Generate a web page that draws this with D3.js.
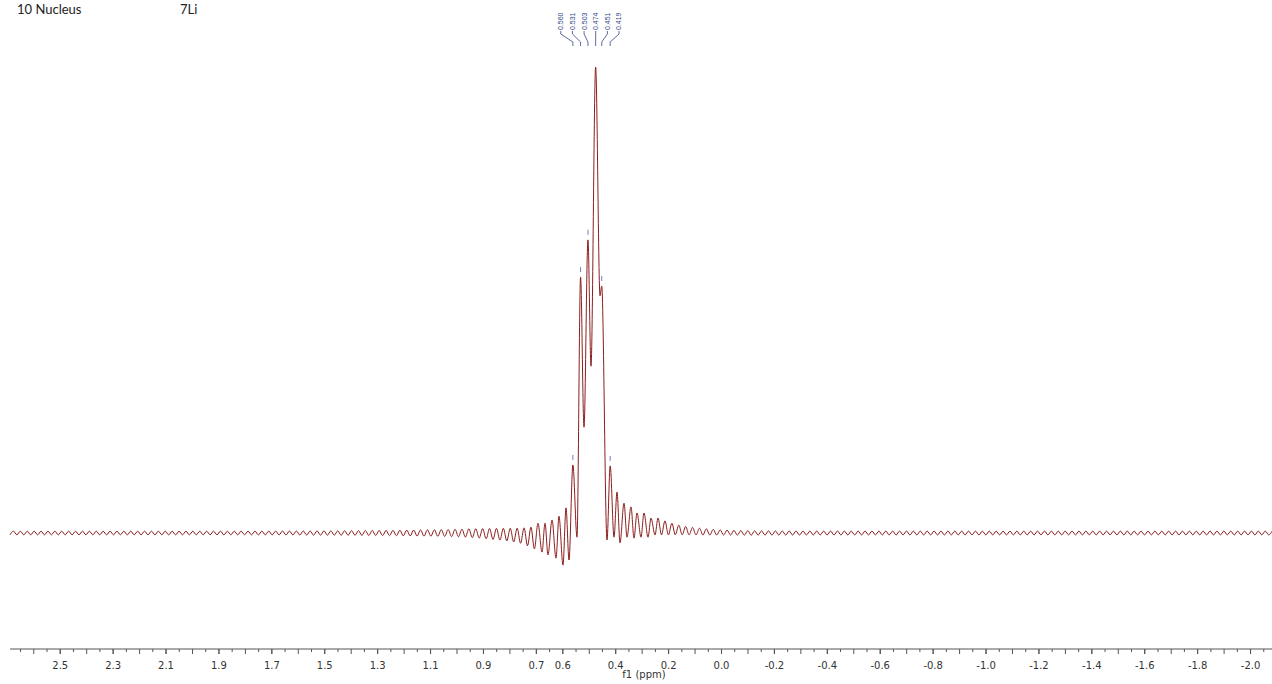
<!DOCTYPE html>
<html>
<head>
<meta charset="utf-8">
<script src="https://cdn.jsdelivr.net/npm/d3@7"></script>
<style>
  html, body { margin: 0; padding: 0; background: #fff; }
  svg { display: block; }
</style>
</head>
<body>
<svg id="chart" width="1272" height="684"></svg>
<script>
// ---- header text ----
const headerLeft = "10 Nucleus";
const headerNucleus = "7Li";

// ---- peak picking (ppm) ----
const peakShifts = [0.560, 0.531, 0.503, 0.474, 0.451, 0.419];
const peakLabels = ["0.560", "0.531", "0.503", "0.474", "0.451", "0.419"];

// ---- x axis labels (ppm) ----
const tickLabelValues = [2.5, 2.3, 2.1, 1.9, 1.7, 1.5, 1.3, 1.1, 0.9, 0.7, 0.6, 0.4, 0.2, 0.0,
  -0.2, -0.4, -0.6, -0.8, -1.0, -1.2, -1.4, -1.6, -1.8, -2.0];
const axisTitle = "f1 (ppm)";

// ---- spectrum: extrema of the truncation wiggles, sampled every wingStep ppm ----
const wingStep = 0.013043;
const leftWingStart = 2.688;
const leftWingIntensity = [
  -0.39,0.39,-0.38,0.39,-0.39,0.38,-0.39,0.39,-0.39,0.39,
  -0.39,0.38,-0.39,0.39,-0.38,0.39,-0.39,0.39,-0.39,0.38,
  -0.39,0.39,-0.39,0.39,-0.38,0.39,-0.39,0.38,-0.39,0.39,
  -0.39,0.39,-0.38,0.39,-0.39,0.39,-0.39,0.38,-0.39,0.39,
  -0.38,0.39,-0.39,0.39,-0.39,0.38,-0.39,0.39,-0.39,0.39,
  -0.39,0.38,-0.39,0.39,-0.39,0.39,-0.38,0.39,-0.39,0.39,
  -0.39,0.39,-0.39,0.38,-0.39,0.39,-0.39,0.39,-0.38,0.39,
  -0.39,0.39,-0.40,0.40,-0.40,0.41,-0.41,0.41,-0.41,0.42,
  -0.42,0.42,-0.42,0.43,-0.43,0.43,-0.44,0.44,-0.45,0.45,
  -0.46,0.46,-0.47,0.47,-0.47,0.48,-0.48,0.49,-0.49,0.50,
  -0.50,0.51,-0.52,0.52,-0.53,0.54,-0.54,0.55,-0.56,0.56,
  -0.57,0.58,-0.59,0.60,-0.61,0.62,-0.63,0.63,-0.64,0.65,
  -0.66,0.67,-0.68,0.70,-0.71,0.72,-0.74,0.75,-0.77,0.79,
  -0.81,0.83,-0.88,0.90,-0.99,0.92,-1.08,0.95,-1.25,0.97,
  -1.38,0.99,-1.52,1.00,-1.70,1.00,-1.92,1.03,-2.20,1.10,
  -2.75,1.25,-3.40
];

// central multiplet region (ppm, relative intensity; tallest line = 100)
const coreShift = [
  0.6919,0.6767,0.6654,0.6541,0.6389,0.6238,0.6125,0.5974,0.5860,0.5747,
  0.560,0.5444,0.531,0.5180,0.503,0.4915,0.474,0.4575,0.451,0.4310,
  0.419,0.4045,0.3932,0.3819,0.3667,0.3554,0.3403,0.3289,0.3176,0.3025,
  0.2911,0.2760,0.2647,0.2495,0.2382
];
const coreIntensity = [
  2.1,-4.1,2.1,-4.7,2.8,-5.4,3.6,-6.9,5.4,-5.8,
  14.6,-0.9,54.9,22.7,62.9,35.8,100,50.9,53.0,-1.5,
  14.4,-0.9,8.8,-2.1,6.4,-0.9,5.6,-1.1,4.3,-0.9,
  4.3,-0.9,3.2,-0.4,3.2
];

const rightWingStart = 0.22495;
const rightWingIntensity = [
  -0.40,2.60,-0.41,2.10,-0.40,1.70,-0.40,1.40,-0.40,1.20,
  -0.41,1.02,-0.43,0.89,-0.44,0.78,-0.44,0.68,-0.45,0.62,
  -0.45,0.55,-0.46,0.52,-0.47,0.49,-0.47,0.47,-0.46,0.46,
  -0.45,0.45,-0.45,0.44,-0.44,0.44,-0.44,0.43,-0.43,0.43,
  -0.43,0.42,-0.42,0.42,-0.42,0.42,-0.42,0.42,-0.42,0.42,
  -0.42,0.42,-0.42,0.42,-0.42,0.41,-0.42,0.42,-0.42,0.42,
  -0.41,0.41,-0.41,0.41,-0.41,0.41,-0.41,0.41,-0.41,0.41,
  -0.41,0.41,-0.41,0.41,-0.41,0.41,-0.41,0.41,-0.41,0.41,
  -0.41,0.41,-0.41,0.41,-0.41,0.41,-0.41,0.41,-0.41,0.41,
  -0.41,0.40,-0.41,0.40,-0.41,0.40,-0.40,0.40,-0.40,0.40,
  -0.40,0.40,-0.40,0.40,-0.40,0.40,-0.40,0.40,-0.40,0.40,
  -0.40,0.40,-0.40,0.40,-0.40,0.40,-0.40,0.40,-0.40,0.40,
  -0.40,0.40,-0.40,0.40,-0.40,0.40,-0.40,0.40,-0.40,0.40,
  -0.40,0.40,-0.40,0.40,-0.40,0.40,-0.40,0.40,-0.40,0.40,
  -0.40,0.40,-0.40,0.40,-0.40,0.40,-0.40,0.40,-0.40,0.40,
  -0.40,0.40,-0.40,0.40,-0.40,0.40,-0.40,0.40,-0.40,0.40,
  -0.40,0.40,-0.40,0.40,-0.40,0.40,-0.40,0.40,-0.40,0.40,
  -0.40,0.40,-0.40,0.40,-0.40,0.40,-0.40,0.40
];

// ---- assemble the trace ----
const spectrum = [];
leftWingIntensity.forEach((v, i) => spectrum.push([leftWingStart - i * wingStep, v]));
coreShift.forEach((s, i) => spectrum.push([s, coreIntensity[i]]));
rightWingIntensity.forEach((v, i) => spectrum.push([rightWingStart - i * wingStep, v]));

// ---- scales ----
const svg = d3.select("#chart");
const x = d3.scaleLinear().domain([2.688, -2.083]).range([10, 1272]);
const y = d3.scaleLinear().domain([0, 100]).range([533, 67]);
const axisY = 649;

// ---- header ----
svg.append("text").attr("x", 17).attr("y", 14)
  .style("font-family", "Lato, 'Open Sans', sans-serif").style("font-size", "13px")
  .style("fill", "#222").text(headerLeft);
svg.append("text").attr("x", 180).attr("y", 14)
  .style("font-family", "Lato, 'Open Sans', sans-serif").style("font-size", "13px")
  .style("fill", "#222").text(headerNucleus);

// ---- spectrum line ----
const line = d3.line()
  .x(d => x(d[0]))
  .y(d => y(d[1]))
  .curve(d3.curveMonotoneX);

svg.append("path")
  .datum(spectrum)
  .attr("d", line)
  .attr("fill", "none")
  .attr("stroke", "#8b1e1e")
  .attr("stroke-width", 1)
  .attr("stroke-linejoin", "round");

// ---- peak markers and labels ----
const peakColor = "#34448a";
const labelGap = 11.65;
const labelCenter = 589.9;
const peakGroup = svg.append("g");
const maxIntensity = d3.max(coreIntensity);

peakShifts.forEach((p, i) => {
  const px = x(p);
  const lx = labelCenter + (i - (peakShifts.length - 1) / 2) * labelGap;
  const intensity = coreIntensity[coreShift.indexOf(p)];
  const top = y(intensity);

  // small tick right above each picked line (the tallest line carries its label directly)
  if (intensity < maxIntensity) {
    peakGroup.append("line")
      .attr("x1", px).attr("x2", px)
      .attr("y1", top - 10).attr("y2", top - 5)
      .attr("stroke", "#7480b4").attr("stroke-width", 1);
  }

  // connector from label to peak position
  peakGroup.append("path")
    .attr("d", `M${lx},31 L${lx},34 L${px},42 L${px},46`)
    .attr("fill", "none")
    .attr("stroke", peakColor)
    .attr("stroke-width", 0.8);

  // rotated label
  peakGroup.append("text")
    .attr("transform", `translate(${lx},30) rotate(-90)`)
    .attr("dy", "0.35em")
    .style("font-family", "'Liberation Sans', Arial, sans-serif")
    .style("font-size", "7px")
    .style("fill", peakColor)
    .text(peakLabels[i]);
});

// ---- x axis ----
const axisG = svg.append("g").attr("transform", `translate(0,${axisY})`);

axisG.append("line")
  .attr("x1", 10).attr("x2", 1272)
  .attr("y1", 0).attr("y2", 0)
  .attr("stroke", "#555").attr("stroke-width", 1);

const tenthTicks = d3.range(-20, 27).map(k => k / 10);
const halfTicks = d3.range(-41, 54, 2).map(k => k / 20);

const minorAxis = d3.axisBottom(x).tickValues(halfTicks).tickSize(3).tickFormat("");
const tenthAxis = d3.axisBottom(x).tickValues(tenthTicks).tickSize(5).tickFormat("");
const labelAxis = d3.axisBottom(x).tickValues(tickLabelValues).tickSize(5).tickPadding(8)
  .tickFormat(d => d.toFixed(1));

[minorAxis, tenthAxis, labelAxis].forEach(a => {
  const g = axisG.append("g").call(a);
  g.select(".domain").remove();
  g.selectAll(".tick line").attr("stroke", "#555");
  g.selectAll(".tick text")
    .style("font-family", "'DejaVu Sans', Verdana, sans-serif")
    .style("font-size", "10px")
    .style("fill", "#333");
});

svg.append("text")
  .attr("x", 644).attr("y", 678)
  .attr("text-anchor", "middle")
  .style("font-family", "'DejaVu Sans', Verdana, sans-serif")
  .style("font-size", "10px")
  .style("fill", "#333")
  .text(axisTitle);
</script>
</body>
</html>
